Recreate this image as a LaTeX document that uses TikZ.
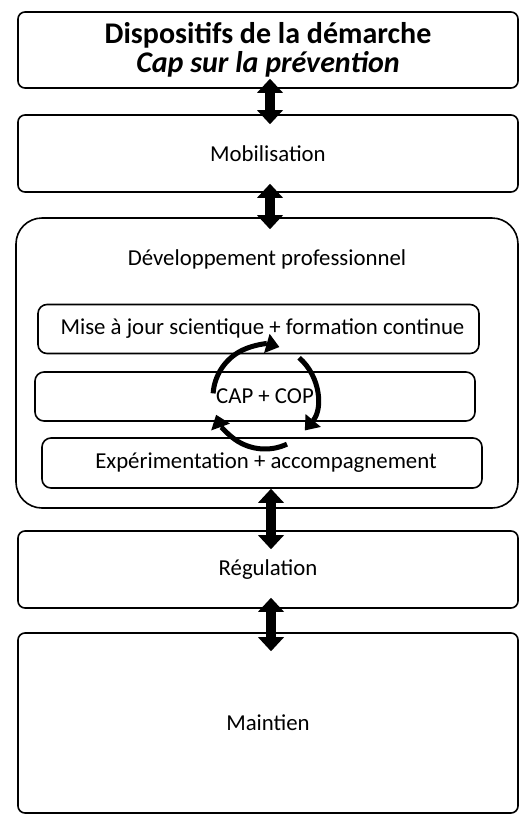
\documentclass[tikz,border=0pt]{standalone}
\usepackage{fontspec}
\setmainfont{Carlito}
\usetikzlibrary{arrows.meta,positioning}
\tikzset{%
	stage box/.style={draw,line width=1.6pt,rounded corners=7pt,
		minimum width=500pt,inner sep=0pt,align=center},%
	inner box/.style={draw,line width=1.6pt,rounded corners=9pt,
		minimum width=440pt,minimum height=49pt,inner sep=0pt},%
	body text/.style={font=\fontsize{22.8}{26}\selectfont},%
	link arrow/.style={line width=10pt,
		{Triangle[width=26pt,length=14pt,line width=0pt]}-{Triangle[width=26pt,length=14pt,line width=0pt]}},%
	cycle arrow/.style={line width=5pt,
		-{Triangle[width=20pt,length=13pt,line width=0pt]}}%
}

\begin{document}
\begin{tikzpicture}[x=1pt,y=-1pt]
	%% some definitions
	\def\r{52} % radius of the cycle
	\useasboundingbox (0,0) rectangle (519,815);
	
	%% outer boxes
	\node[stage box,minimum height=76pt,
	font=\fontsize{30}{29}\selectfont\bfseries] (title) at (268,50)
	{Dispositifs de la démarche\\ \textit{Cap sur la prévention}};
	\node[stage box,body text,minimum height=77pt] (mob) at (268,153.5) {Mobilisation};
	\node[stage box,minimum width=502pt,minimum height=290pt,rounded corners=26pt] (dev) at (267,363) {};
	\node[body text] (devtitle) at (267,259) {Développement professionnel};
	\node[stage box,body text,minimum height=77pt] (reg) at (268,569.5) {Régulation};
	\node[stage box,body text,minimum height=180pt] (maint) at (268,723) {Maintien};
	
	%% inner boxes
	\node[inner box,body text,minimum width=441pt] (maj) at (258.5,329) {\hspace*{8pt}Mise à jour scientique + formation continue};
	\node[inner box,body text] (cap) at (255,396.5) {\hspace*{20pt}CAP + COP};
	\node[inner box,body text,minimum height=50pt] (exp) at (262,463) {\hspace*{8pt}Expérimentation + accompagnement};
	
	%% links between the stages
	\draw[link arrow] ([xshift=2pt,yshift=10pt]title.south) -- ([xshift=2pt,yshift=-10pt]mob.north);
	\draw[link arrow] ([xshift=2pt,yshift=9pt]mob.south) -- ([xshift=3pt,yshift=-12pt]dev.north);
	\draw[link arrow] ([xshift=4pt,yshift=20pt]dev.south) -- ([xshift=3pt,yshift=-19pt]reg.north);
	\draw[link arrow] ([xshift=3pt,yshift=11pt]reg.south) -- ([xshift=3pt,yshift=-19pt]maint.north);
	
	%% cycle
	\coordinate (cyc) at (265,397);
	\draw[cycle arrow] ([shift={(-176:\r)}]cyc) arc (-176:-74:\r);
	\draw[cycle arrow] ([shift={(-49:\r)}]cyc) arc (-49:40:\r);
	\draw[cycle arrow] ([shift={(65:\r)}]cyc) arc (65:160:\r);
	
\end{tikzpicture}
\end{document}
